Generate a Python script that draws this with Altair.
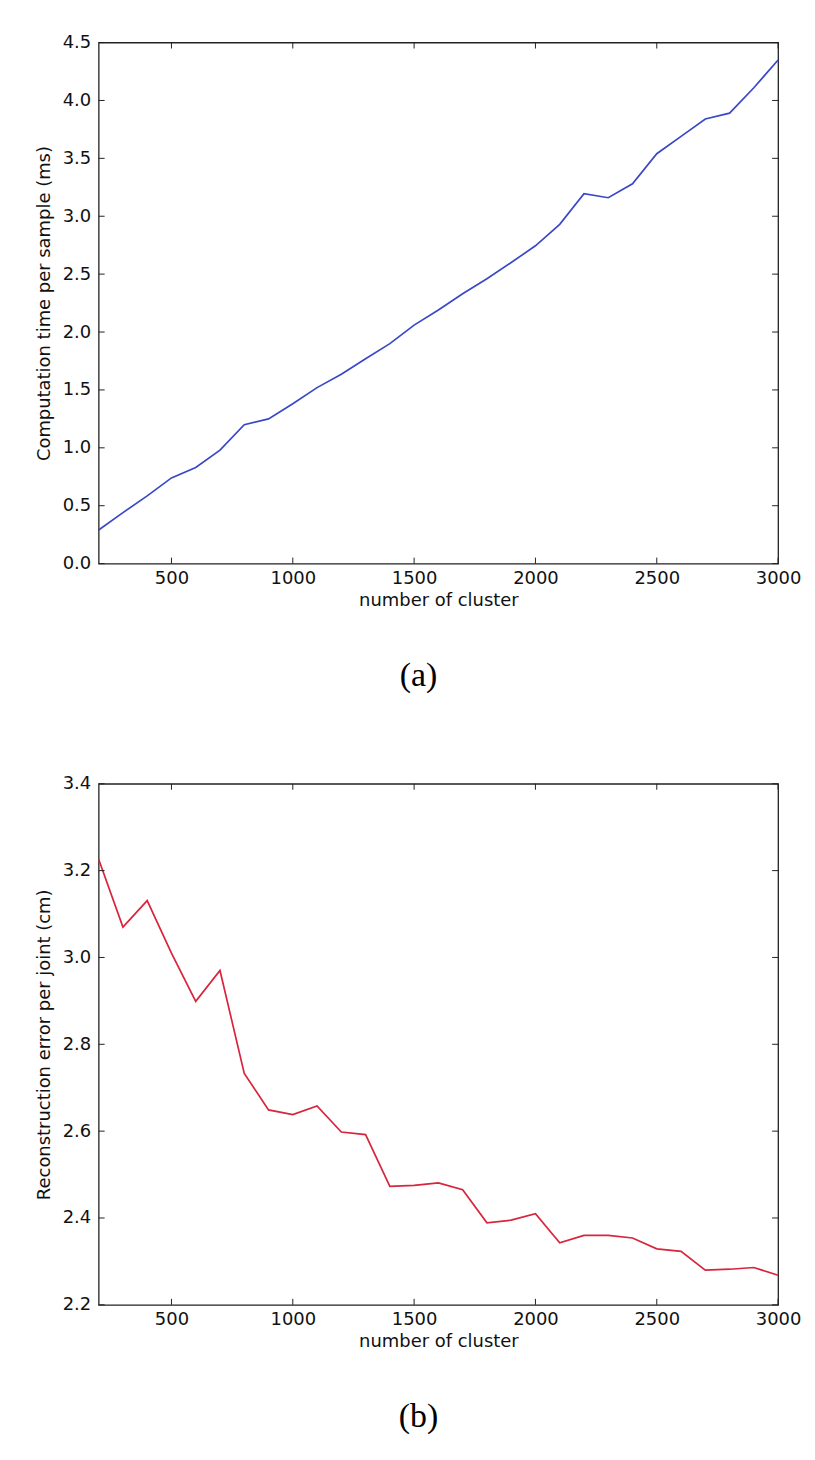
import altair as alt
import pandas as pd

# ---- data ----
clusters = [200, 300, 400, 500, 600, 700, 800, 900, 1000, 1100, 1200, 1300, 1400, 1500,
            1600, 1700, 1800, 1900, 2000, 2100, 2200, 2300, 2400, 2500, 2600, 2700, 2800,
            2900, 3000]
time_ms = [0.29, 0.44, 0.585, 0.74, 0.83, 0.98, 1.20, 1.25, 1.38, 1.52, 1.635, 1.77, 1.90,
           2.06, 2.19, 2.33, 2.46, 2.60, 2.745, 2.93, 3.195, 3.16, 3.28, 3.54, 3.69, 3.84,
           3.89, 4.11, 4.35]
error_cm = [3.226, 3.07, 3.131, 3.01, 2.899, 2.970, 2.733, 2.649, 2.638, 2.658, 2.598, 2.592,
            2.473, 2.475, 2.481, 2.465, 2.389, 2.395, 2.410, 2.343, 2.360, 2.360, 2.354,
            2.329, 2.323, 2.280, 2.282, 2.286, 2.268]

x_ticks = [500, 1000, 1500, 2000, 2500, 3000]
y_ticks_a = [0.0, 0.5, 1.0, 1.5, 2.0, 2.5, 3.0, 3.5, 4.0, 4.5]
y_ticks_b = [2.2, 2.4, 2.6, 2.8, 3.0, 3.2, 3.4]

W, H = 682, 523
TICK = 6
FONT = "DejaVu Sans"


def panel(values, color, y_domain, y_ticks, y_title, caption):
    df = pd.DataFrame({"n": clusters, "v": values})
    xt = pd.DataFrame({"n": x_ticks})
    yt = pd.DataFrame({"v": y_ticks})

    x_axis = alt.Axis(values=x_ticks, ticks=False, domain=False, grid=False,
                      labelFont=FONT, labelFontSize=18, labelColor="#111111",
                      labelPadding=6, labelFlush=False, labelOverlap=False,
                      titleFont=FONT, titleFontSize=18, titleFontWeight="normal",
                      titleColor="#111111", titlePadding=4, format="d")
    y_axis = alt.Axis(values=y_ticks, ticks=False, domain=False, grid=False,
                      labelFont=FONT, labelFontSize=18, labelColor="#111111",
                      labelPadding=8, labelFlush=False, labelOverlap=False,
                      titleFont=FONT, titleFontSize=18, titleFontWeight="normal",
                      titleColor="#111111", titlePadding=9, format=".1f")
    xs = alt.Scale(domain=[200, 3000], nice=False, zero=False)
    ys = alt.Scale(domain=y_domain, nice=False, zero=False)

    xenc = alt.X("n:Q", scale=xs, axis=x_axis, title="number of cluster")
    yenc = alt.Y("v:Q", scale=ys, axis=y_axis, title=y_title)

    line = alt.Chart(df).mark_line(color=color, strokeWidth=1.7).encode(x=xenc, y=yenc)

    tb = alt.Chart(xt).mark_rule(color="#222222", strokeWidth=1).encode(
        x=xenc, y=alt.value(H), y2=alt.value(H - TICK))
    tt = alt.Chart(xt).mark_rule(color="#222222", strokeWidth=1).encode(
        x=xenc, y=alt.value(0), y2=alt.value(TICK))
    tl = alt.Chart(yt).mark_rule(color="#222222", strokeWidth=1).encode(
        y=yenc, x=alt.value(0), x2=alt.value(TICK))
    tr = alt.Chart(yt).mark_rule(color="#222222", strokeWidth=1).encode(
        y=yenc, x=alt.value(W), x2=alt.value(W - TICK))

    return alt.layer(line, tb, tt, tl, tr).properties(
        width=W, height=H,
        title=alt.TitleParams(caption, orient="bottom", anchor="middle",
                              font="Liberation Serif", fontSize=34,
                              fontWeight="normal", color="black",
                              offset=50, dx=-20),
    )


a = panel(time_ms, "#3a48c8", [0, 4.5], y_ticks_a,
          "Computation time per sample (ms)", "(a)")
b = panel(error_cm, "#d8243c", [2.2, 3.4], y_ticks_b,
          "Reconstruction error per joint (cm)", "(b)")

chart = alt.vconcat(a, b, spacing=80).properties(
    padding={"left": 26, "top": 22, "right": 5, "bottom": 5},
    background="white",
).configure_view(stroke="#222222", strokeWidth=1.3)

chart.save("out.html", embed_options={"renderer": "svg", "actions": False})
